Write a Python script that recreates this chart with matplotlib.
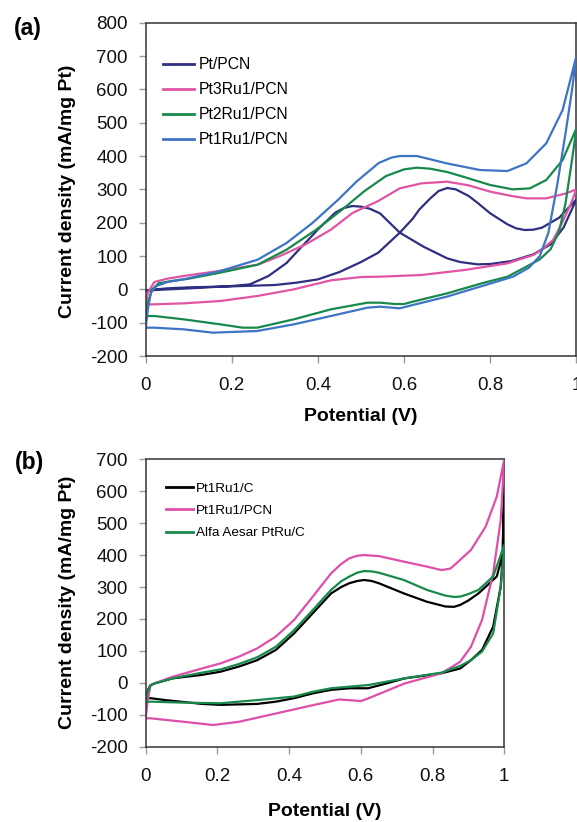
import numpy as np
import matplotlib
matplotlib.use("Agg")
import matplotlib.pyplot as plt
from matplotlib.ticker import FixedLocator, FixedFormatter

plt.rcParams['font.family'] = ['Liberation Sans', 'DejaVu Sans']

# ---------------- data (a) ----------------
pt_fwd_x = [0.0, 0.05, 0.1, 0.2, 0.3, 0.35, 0.4, 0.45, 0.5, 0.54, 0.59, 0.62, 0.635, 0.66, 0.68, 0.70, 0.72, 0.75, 0.77, 0.8, 0.84, 0.86, 0.88, 0.9, 0.92, 0.96, 1.0]
pt_fwd_y = [-3, 3, 6, 9, 13, 20, 30, 52, 82, 110, 170, 212, 239, 272, 295, 304, 300, 280, 260, 228, 195, 183, 178, 179, 185, 215, 270]
pt_bwd_x = [1.0, 0.97, 0.94, 0.9, 0.85, 0.8, 0.77, 0.73, 0.7, 0.645, 0.59, 0.544, 0.52, 0.5, 0.48, 0.46, 0.44, 0.42, 0.4, 0.38, 0.36, 0.327, 0.285, 0.242, 0.2, 0.173, 0.088, 0.02, 0.0]
pt_bwd_y = [270, 185, 135, 105, 85, 76, 75, 82, 93, 128, 170, 228, 242, 248, 250, 244, 230, 205, 180, 152, 125, 79, 40, 15, 10, 8, 2, -2, -5]

pt3_fwd_x = [0.0, 0.005, 0.02, 0.05, 0.088, 0.17, 0.26, 0.31, 0.37, 0.43, 0.48, 0.54, 0.59, 0.64, 0.7, 0.75, 0.8, 0.85, 0.884, 0.93, 0.976, 1.0]
pt3_fwd_y = [-45, -10, 22, 32, 40, 55, 74, 99, 134, 179, 229, 265, 303, 318, 323, 312, 293, 280, 273, 273, 288, 300]
pt3_bwd_x = [1.0, 0.985, 0.965, 0.946, 0.92, 0.9, 0.84, 0.74, 0.64, 0.544, 0.5, 0.43, 0.344, 0.259, 0.173, 0.088, 0.02, 0.0]
pt3_bwd_y = [300, 250, 195, 148, 120, 103, 78, 58, 43, 38, 37, 27, 0, -20, -35, -42, -45, -45]

pt2_fwd_x = [0.0, 0.005, 0.015, 0.03, 0.06, 0.1, 0.173, 0.26, 0.327, 0.396, 0.456, 0.507, 0.558, 0.6, 0.63, 0.66, 0.7, 0.737, 0.8, 0.852, 0.892, 0.93, 0.968, 1.0]
pt2_fwd_y = [-80, -40, 0, 18, 25, 32, 50, 74, 119, 179, 239, 294, 340, 360, 365, 362, 352, 338, 313, 300, 303, 328, 388, 483]
pt2_bwd_x = [1.0, 0.99, 0.975, 0.96, 0.94, 0.915, 0.884, 0.84, 0.78, 0.70, 0.62, 0.6, 0.578, 0.544, 0.515, 0.43, 0.344, 0.259, 0.225, 0.173, 0.088, 0.02, 0.0]
pt2_bwd_y = [483, 390, 260, 175, 120, 90, 68, 38, 18, -12, -37, -44, -44, -40, -40, -60, -90, -115, -115, -105, -90, -80, -80]

pt1_fwd_x = [0.0, 0.005, 0.012, 0.025, 0.05, 0.088, 0.173, 0.26, 0.327, 0.387, 0.447, 0.49, 0.541, 0.57, 0.59, 0.63, 0.699, 0.776, 0.84, 0.884, 0.93, 0.968, 1.0]
pt1_fwd_y = [-115, -60, -10, 10, 22, 30, 55, 89, 139, 199, 269, 324, 379, 395, 400, 400, 378, 358, 355, 378, 438, 538, 700]
pt1_bwd_x = [1.0, 0.99, 0.975, 0.955, 0.935, 0.915, 0.89, 0.853, 0.776, 0.699, 0.62, 0.59, 0.544, 0.515, 0.43, 0.344, 0.259, 0.156, 0.088, 0.02, 0.0]
pt1_bwd_y = [700, 600, 470, 310, 170, 100, 65, 38, 8, -22, -47, -57, -52, -55, -80, -105, -125, -130, -120, -115, -115]

labels_a = ["Pt/PCN", "Pt3Ru1/PCN", "Pt2Ru1/PCN", "Pt1Ru1/PCN"]
colors_a = ["#2E2F80", "#E055A3", "#17894B", "#3D74C6"]

# ---------------- data (b) ----------------
c_fwd_x = [0.0, 0.005, 0.013, 0.024, 0.075, 0.157, 0.209, 0.26, 0.311, 0.363, 0.414, 0.466, 0.517, 0.545, 0.568, 0.59, 0.609, 0.63, 0.65, 0.72, 0.784, 0.836, 0.86, 0.877, 0.9, 0.928, 0.979, 0.995, 1.0]
c_fwd_y = [-50, -25, -8, -2, 14, 25, 35, 51, 71, 103, 155, 218, 280, 300, 312, 319, 322, 319, 312, 280, 254, 239, 238, 244, 258, 280, 333, 400, 626]
c_bwd_x = [1.0, 0.997, 0.99, 0.969, 0.938, 0.907, 0.877, 0.825, 0.722, 0.671, 0.62, 0.568, 0.517, 0.466, 0.414, 0.363, 0.311, 0.209, 0.157, 0.054, 0.013, 0.0]
c_bwd_y = [626, 420, 301, 176, 103, 71, 45, 30, 14, -2, -17, -17, -22, -33, -48, -59, -66, -69, -66, -54, -48, -50]

pcn_fwd_x = [0.0, 0.005, 0.013, 0.024, 0.075, 0.157, 0.209, 0.26, 0.311, 0.363, 0.414, 0.466, 0.517, 0.545, 0.568, 0.59, 0.609, 0.65, 0.722, 0.784, 0.825, 0.85, 0.866, 0.907, 0.948, 0.979, 1.0]
pcn_fwd_y = [-111, -60, -10, -2, 19, 45, 61, 82, 108, 145, 197, 270, 343, 372, 390, 398, 400, 397, 379, 364, 353, 358, 374, 416, 489, 583, 700]
pcn_bwd_x = [1.0, 0.99, 0.969, 0.938, 0.907, 0.877, 0.825, 0.722, 0.62, 0.6, 0.54, 0.466, 0.363, 0.26, 0.188, 0.106, 0.013, 0.0]
pcn_bwd_y = [700, 510, 343, 197, 113, 66, 30, -2, -49, -57, -52, -70, -96, -122, -132, -122, -111, -111]

alfa_fwd_x = [0.0, 0.005, 0.013, 0.024, 0.075, 0.157, 0.209, 0.26, 0.311, 0.363, 0.414, 0.466, 0.517, 0.545, 0.568, 0.59, 0.609, 0.63, 0.65, 0.72, 0.784, 0.836, 0.86, 0.877, 0.9, 0.928, 0.969, 1.0]
alfa_fwd_y = [-60, -30, -8, -2, 14, 32, 42, 59, 80, 113, 165, 228, 291, 318, 333, 345, 350, 349, 345, 322, 291, 273, 269, 270, 278, 291, 333, 432]
alfa_bwd_x = [1.0, 0.99, 0.969, 0.938, 0.907, 0.877, 0.825, 0.722, 0.62, 0.568, 0.517, 0.466, 0.414, 0.311, 0.209, 0.106, 0.013, 0.0]
alfa_bwd_y = [432, 300, 155, 98, 71, 53, 32, 14, -7, -12, -17, -28, -43, -54, -64, -62, -59, -60]

labels_b = ["Pt1Ru1/C", "Pt1Ru1/PCN", "Alfa Aesar PtRu/C"]
colors_b = ["#000000", "#DE4FAA", "#17894B"]

xticks = [0, 0.2, 0.4, 0.6, 0.8, 1.0]
xticklabels = ["0", "0.2", "0.4", "0.6", "0.8", "1"]
yticks_a = [-200, -100, 0, 100, 200, 300, 400, 500, 600, 700, 800]
yticks_b = [-200, -100, 0, 100, 200, 300, 400, 500, 600, 700]

# ---------------- figure ----------------
W, H = 577, 822
fig = plt.figure(figsize=(W / 100, H / 100), dpi=100)

def px_axes(l, t, r, b):
    return fig.add_axes([l / W, 1 - b / H, (r - l) / W, (b - t) / H])

ax1 = px_axes(145.7, 22.7, 576.4, 356.0)
ax2 = px_axes(145.7, 459.3, 504.3, 746.7)

series_a = [(pt_fwd_x, pt_fwd_y, pt_bwd_x, pt_bwd_y),
            (pt3_fwd_x, pt3_fwd_y, pt3_bwd_x, pt3_bwd_y),
            (pt2_fwd_x, pt2_fwd_y, pt2_bwd_x, pt2_bwd_y),
            (pt1_fwd_x, pt1_fwd_y, pt1_bwd_x, pt1_bwd_y)]
series_b = [(c_fwd_x, c_fwd_y, c_bwd_x, c_bwd_y),
            (pcn_fwd_x, pcn_fwd_y, pcn_bwd_x, pcn_bwd_y),
            (alfa_fwd_x, alfa_fwd_y, alfa_bwd_x, alfa_bwd_y)]

for (fx, fy, bx, by), lab, col in zip(series_a, labels_a, colors_a):
    ax1.plot(list(fx) + list(bx), list(fy) + list(by), color=col, lw=1.6, label=lab,
             solid_joinstyle='round')
for (fx, fy, bx, by), lab, col in zip(series_b, labels_b, colors_b):
    ax2.plot(list(fx) + list(bx), list(fy) + list(by), color=col, lw=1.6, label=lab,
             solid_joinstyle='round')

for ax, yt, ylim in [(ax1, yticks_a, (-200, 800)), (ax2, yticks_b, (-200, 700))]:
    ax.set_xlim(0, 1)
    ax.set_ylim(*ylim)
    ax.xaxis.set_major_locator(FixedLocator(xticks))
    ax.xaxis.set_major_formatter(FixedFormatter(xticklabels))
    ax.yaxis.set_major_locator(FixedLocator(yt))
    ax.yaxis.set_major_formatter(FixedFormatter([str(v) for v in yt]))
    ax.tick_params(axis='both', direction='out', length=5, width=1, color='#9a9a9a',
                   labelsize=13.5, labelcolor='#111111')
    ax.tick_params(axis='x', pad=10)
    ax.tick_params(axis='y', pad=8)
    for s in ax.spines.values():
        s.set_color('#333333')
        s.set_linewidth(1.1)
    for sp in ['right', 'top']:
        ax.spines[sp].set_zorder(0.5)
    ax.patch.set_facecolor('white')

leg1 = ax1.legend(loc='upper left', bbox_to_anchor=(0.041, 0.897), frameon=False,
                  fontsize=11.3, borderpad=0, handlelength=1.97, handletextpad=0.27,
                  labelspacing=0.64, borderaxespad=0)
leg2 = ax2.legend(loc='upper left', bbox_to_anchor=(0.056, 0.92), frameon=False,
                  fontsize=9.7, borderpad=0, handlelength=2.0, handletextpad=0.21,
                  labelspacing=0.73, borderaxespad=0)
for leg in (leg1, leg2):
    for h in leg.legend_handles:
        h.set_linewidth(2.0)

def ftext(x, y, s, **kw):
    fig.text(x / W, 1 - y / H, s, ha='center', va='center', **kw)

ftext(68, 191, "Current density (mA/mg Pt)", rotation=90, fontsize=14, fontweight='bold')
ftext(68, 602.5, "Current density (mA/mg Pt)", rotation=90, fontsize=14, fontweight='bold')
ftext(361, 416, "Potential (V)", fontsize=14, fontweight='bold')
ftext(325, 811, "Potential (V)", fontsize=14, fontweight='bold')
ftext(28, 28, "(a)", fontsize=16.5, fontweight='bold')
ftext(29.5, 462, "(b)", fontsize=16.5, fontweight='bold')

fig.savefig("out.png", dpi=100, facecolor='white')
